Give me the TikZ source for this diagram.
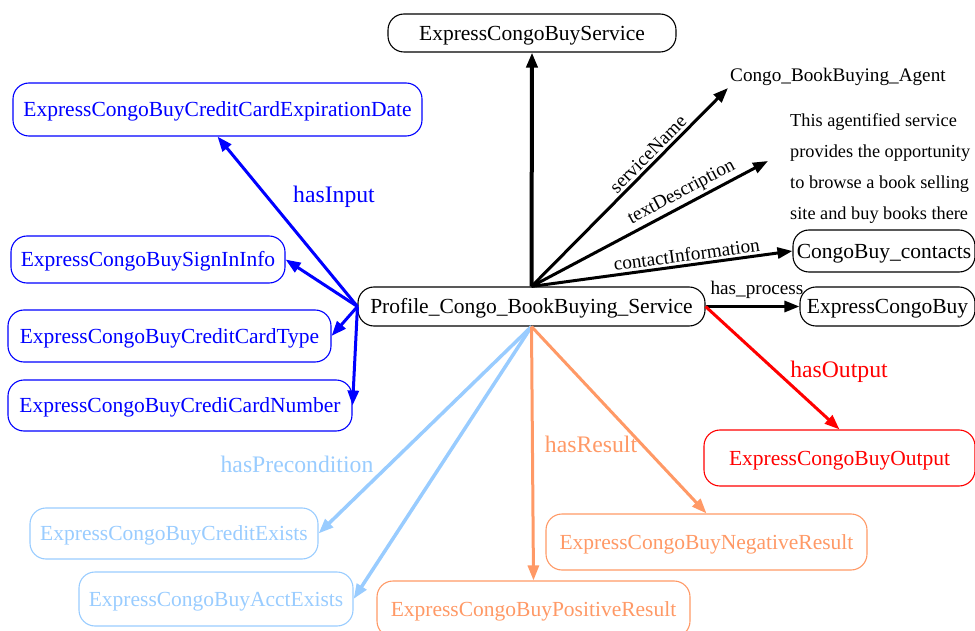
\documentclass[tikz,border=0pt]{standalone}
\usepackage{fontspec}
\setmainfont{Liberation Serif}
\usetikzlibrary{arrows.meta}
\definecolor{lblue}{RGB}{153,204,255}
\definecolor{lorange}{RGB}{255,153,102}
\begin{document}
\begin{tikzpicture}[x=1pt,y=-1pt,
  box/.style={draw, rounded corners=16pt, line width=1.1pt, inner sep=0pt, text height=14.2pt, text depth=0pt, font=\fontsize{21.5}{26}\selectfont},
  arr/.style={line width=3pt, -{Triangle[length=15pt,width=11pt]}},
  lab/.style={font=\fontsize{23.7}{28}\selectfont},
  blab/.style={font=\fontsize{19.2}{23}\selectfont, inner sep=2.5pt},
]
\useasboundingbox (0,0) rectangle (975,631);

% central node
\node[box, minimum width=347pt, minimum height=39pt] (prof) at (531.5,306.5) {Profile\_Congo\_BookBuying\_Service};

% black targets
\node[box, minimum width=288pt, minimum height=38pt] (svc) at (532,33) {ExpressCongoBuyService};
\node[font=\fontsize{19.2}{23}\selectfont, inner sep=2pt, anchor=south west] (agent) at (728,88) {Congo\_BookBuying\_Agent};
\node[font=\fontsize{18.3}{31}\selectfont, align=left, inner sep=0pt, anchor=north west] (desc) at (790,113) {This agentified service\\provides the opportunity\\to browse a book selling\\site and buy books there};
\coordinate (tdend) at (768,161);
\node[box, minimum width=182pt, minimum height=42pt] (cont) at (884,251) {CongoBuy\_contacts};
\node[box, minimum width=175pt, minimum height=39pt] (ecb) at (887.5,306.5) {ExpressCongoBuy};

% blue inputs
\begin{scope}[every node/.append style={blue}]
\node[box, minimum width=409pt, minimum height=53pt] (expd) at (217.5,109.5) {ExpressCongoBuyCreditCardExpirationDate};
\node[box, minimum width=274pt, minimum height=47pt] (sign) at (148,259.5) {ExpressCongoBuySignInInfo};
\node[box, minimum width=323pt, minimum height=52pt] (ctype) at (169.5,336) {ExpressCongoBuyCreditCardType};
\node[box, minimum width=344pt, minimum height=51pt] (cnum) at (180,405.5) {ExpressCongoBuyCrediCardNumber};
\end{scope}

% light blue preconditions
\begin{scope}[every node/.append style={lblue}]
\node[box, minimum width=288pt, minimum height=51pt] (cred) at (174,533.5) {ExpressCongoBuyCreditExists};
\node[box, minimum width=274pt, minimum height=54pt] (acct) at (216,599) {ExpressCongoBuyAcctExists};
\end{scope}

% orange results
\begin{scope}[every node/.append style={lorange}]
\node[box, minimum width=321pt, minimum height=56pt] (neg) at (706.5,542) {ExpressCongoBuyNegativeResult};
\node[box, minimum width=313pt, minimum height=56pt] (pos) at (533.5,609) {ExpressCongoBuyPositiveResult};
\end{scope}

% red output
\node[box, red, minimum width=271pt, minimum height=56pt] (out) at (839.5,458) {ExpressCongoBuyOutput};

% black arrows
\draw[arr, line width=4pt] (prof.north) -- (svc.south);
\draw[arr] (prof.north) -- node[blab, sloped, above, pos=0.63] {serviceName} (agent.south west);
\draw[arr] (prof.north) -- node[blab, sloped, above, pos=0.66] {textDescription} (tdend);
\draw[arr] (prof.north) -- node[blab, sloped, above, pos=0.6] {contactInformation} (cont.west);
\draw[arr] (prof.east) -- (ecb.west);
\node[blab] (hp) at (757,290) {has\_process};

% blue arrows
\begin{scope}[blue]
\draw[arr] (prof.west) -- (expd.south);
\draw[arr] (prof.west) -- (sign.east);
\draw[arr] (prof.west) -- (ctype.east);
\draw[arr] (prof.west) -- (cnum.east);
\node[lab] (hi) at (334,197) {hasInput};
\end{scope}

% light blue arrows
\begin{scope}[lblue]
\draw[arr, line width=3.5pt] (prof.south) -- (cred.east);
\draw[arr, line width=3.5pt] (prof.south) -- (acct.east);
\node[lab] (hpre) at (297,464) {hasPrecondition};
\end{scope}

% orange arrows
\begin{scope}[lorange]
\draw[arr] (prof.south) -- (pos.north);
\draw[arr] (prof.south) -- (neg.north);
\node[lab] (hr) at (591,444) {hasResult};
\end{scope}

% red arrow
\begin{scope}[red]
\draw[arr] (prof.east) -- (out.north);
\node[lab] (ho) at (839,372) {hasOutput};
\end{scope}
\end{tikzpicture}
\end{document}
